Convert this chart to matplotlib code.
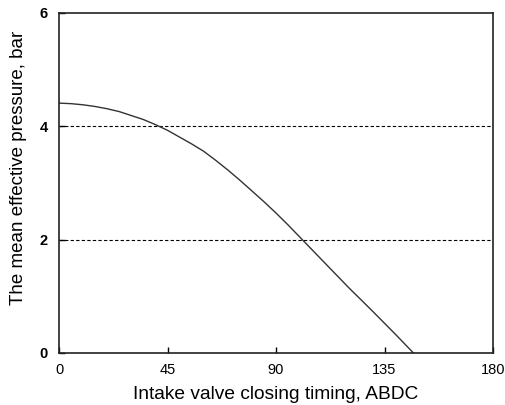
import matplotlib
matplotlib.use("Agg")
import matplotlib.pyplot as plt

# intake valve closing timing (deg ABDC) vs mean effective pressure (bar)
ivc_deg = [0, 5, 10, 15, 20, 25, 30, 35, 40, 45, 50, 55, 60, 65, 70, 75, 80,
           85, 90, 95, 100, 110, 120, 130, 140, 147]
mep_bar = [4.41, 4.40, 4.38, 4.35, 4.31, 4.26, 4.19, 4.12, 4.03, 3.93, 3.81,
           3.69, 3.56, 3.40, 3.23, 3.05, 2.86, 2.67, 2.47, 2.26, 2.04,
           1.60, 1.16, 0.74, 0.31, 0.0]
ref_levels = [2, 4]
x_ticks = [0, 45, 90, 135, 180]
y_ticks = [0, 2, 4, 6]

plt.rcParams["font.family"] = ["Liberation Sans", "DejaVu Sans"]

fig = plt.figure(figsize=(5.05, 4.05), dpi=100)
ax = fig.add_axes([59 / 505, 1 - 353 / 405, 434 / 505, 340 / 405])

for lev in ref_levels:
    ax.axhline(lev, color="black", lw=0.8, ls=(0, (3, 2)))
ax.plot(ivc_deg, mep_bar, color="#333333", lw=1.0)

ax.set_xlim(0, 180)
ax.set_ylim(0, 6)
ax.set_xticks(x_ticks)
ax.set_yticks(y_ticks)
ax.tick_params(direction="in", length=4, width=1, labelsize=10.5)
ax.tick_params(axis="x", pad=7)
ax.tick_params(axis="y", pad=8)
for lab in ax.get_yticklabels():
    lab.set_fontweight("bold")
for side in ax.spines.values():
    side.set_linewidth(1.2)
    side.set_color("#222222")

ax.set_xlabel("Intake valve closing timing, ABDC", fontsize=13.8, labelpad=7)
ax.set_ylabel("The mean effective pressure, bar", fontsize=13.5)
ax.yaxis.set_label_coords(-0.074, 0.545)

fig.savefig("out.png", dpi=100)
